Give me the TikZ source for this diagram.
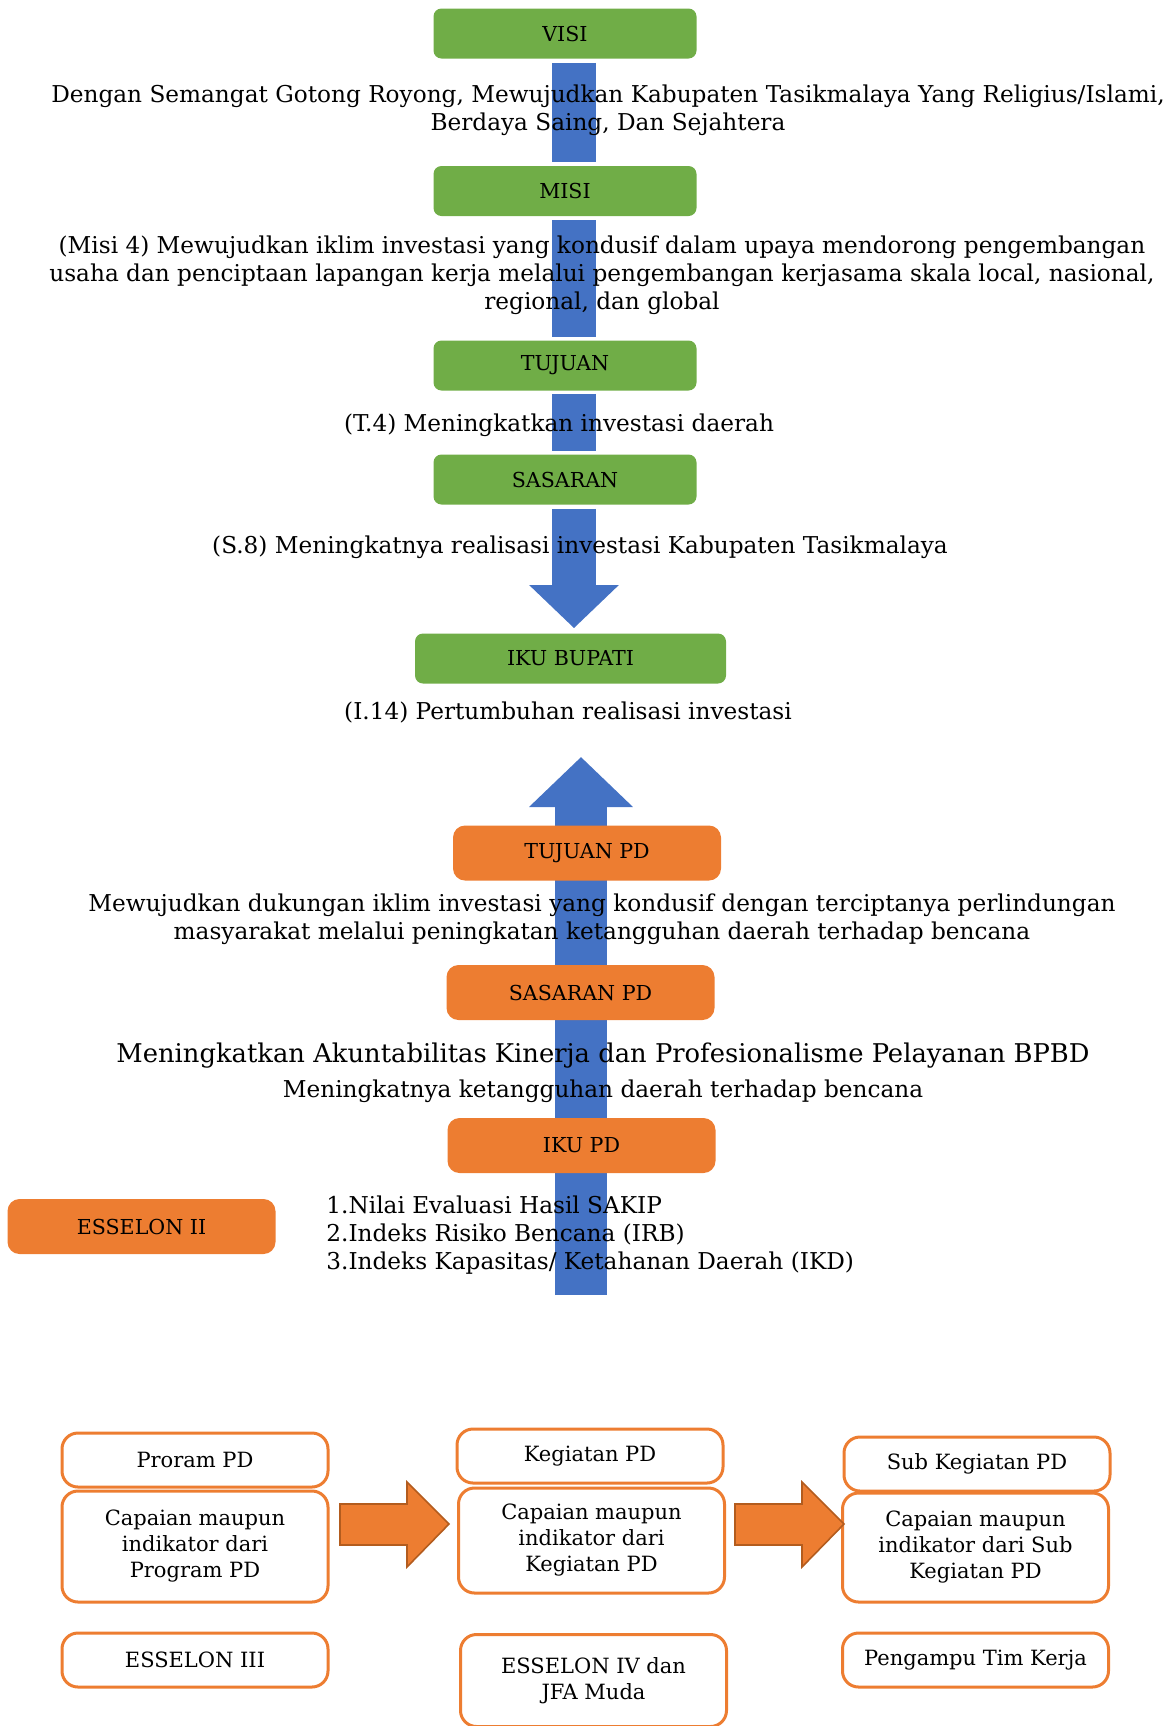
\documentclass[tikz,border=0pt]{standalone}
\usepackage{fontspec}
\setmainfont{DejaVu Serif}
\usepackage{tikz}
\usetikzlibrary{calc,arrows.meta,backgrounds}
\definecolor{leaf}{HTML}{70AD47}
\definecolor{flame}{HTML}{ED7D31}
\definecolor{ember}{HTML}{B35C1E}
\definecolor{cobalt}{HTML}{4472C4}
\tikzset{
  gbox/.style={fill=leaf, rounded corners=4pt, inner sep=0pt, minimum width=131.5pt, minimum height=25pt, font=\fontsize{10.3}{12}\selectfont},
  obox/.style={fill=flame, rounded corners=6pt, inner sep=0pt, minimum width=134pt, minimum height=27.5pt, font=\fontsize{10.3}{12}\selectfont},
  wbox/.style={draw=flame, fill=white, line width=1.5pt, rounded corners=8pt, inner sep=0pt, minimum width=133pt, align=center, font=\fontsize{10.5}{13}\selectfont},
  txt/.style={align=center, inner sep=0pt, font=\fontsize{11.6}{14}\selectfont},
  bar/.style={draw=cobalt, line width=22pt},
  fatbar/.style={draw=cobalt, line width=26pt},
  blk/.style={fill=flame, draw=ember, line width=0.8pt, line join=miter},
}

\begin{document}
\begin{tikzpicture}[x=0.5pt, y=-0.5pt]
  \useasboundingbox (0,0) rectangle (1175,1726);

  \node[gbox] (visi) at (565,33.5) {VISI};
  \node[txt] (tvisi) at (608,110.5) {Dengan Semangat Gotong Royong, Mewujudkan Kabupaten Tasikmalaya Yang Religius/Islami,\\Berdaya Saing, Dan Sejahtera};
  \node[gbox] (misi) at (565,191) {MISI};
  \node[txt] (tmisi) at (602,275.5) {(Misi 4) Mewujudkan iklim investasi yang kondusif dalam upaya mendorong pengembangan\\usaha dan penciptaan lapangan kerja melalui pengembangan kerjasama skala local, nasional,\\regional, dan global};
  \node[gbox] (tujuan) at (565,365.5) {TUJUAN};
  \node[txt] (ttujuan) at (559,425) {(T.4) Meningkatkan investasi daerah};
  \node[gbox] (sasaran) at (565,479.5) {SASARAN};
  \node[txt] (tsasaran) at (580,547) {(S.8) Meningkatnya realisasi investasi Kabupaten Tasikmalaya};
  \node[gbox, minimum width=155.5pt] (ikub) at (570.5,658.5) {IKU BUPATI};
  \node[txt] (tikub) at (568,712) {(I.14) Pertumbuhan realisasi investasi};

  \node[obox] (tujuanpd) at (587,853) {TUJUAN PD};
  \node[txt] (ttujuanpd) at (602,919.5) {Mewujudkan dukungan iklim investasi yang kondusif dengan terciptanya perlindungan\\masyarakat melalui peningkatan ketangguhan daerah terhadap bencana};
  \node[obox] (sasaranpd) at (580.5,992.5) {SASARAN PD};
  \node[txt, font=\fontsize{12.9}{15}\selectfont] (tsasaranpd) at (603,1056) {Meningkatkan Akuntabilitas Kinerja dan Profesionalisme Pelayanan BPBD};
  \node[txt] (tsasaranpd2) at (603,1091) {Meningkatnya ketangguhan daerah terhadap bencana};
  \node[obox] (ikupd) at (581.5,1145.5) {IKU PD};
  \node[obox] (es2) at (141.5,1226.5) {ESSELON II};
  \node[txt, align=left, anchor=west] (tikupd) at (326,1235.5) {1.Nilai Evaluasi Hasil SAKIP\\2.Indeks Risiko Bencana (IRB)\\3.Indeks Kapasitas/ Ketahanan Daerah (IKD)};
  \coordinate (upfoot) at (581,1295);
  \coordinate (uptip) at (581,757);

  \node[wbox, minimum height=27pt] (prog) at (195,1460) {Proram PD};
  \node[wbox, minimum height=55.5pt] (cap1) at (195,1546.5) {Capaian maupun\\indikator dari\\Program PD};
  \node[wbox, minimum height=27pt] (keg) at (590,1456) {Kegiatan PD};
  \node[wbox, minimum height=52.5pt] (cap2) at (591.5,1540.5) {Capaian maupun\\indikator dari\\Kegiatan PD};
  \node[wbox, minimum height=27pt] (sub) at (977,1464) {Sub Kegiatan PD};
  \node[wbox, minimum height=54.5pt] (cap3) at (975.5,1547.5) {Capaian maupun\\indikator dari Sub\\Kegiatan PD};
  \node[wbox, minimum height=27pt] (es3) at (195,1660) {ESSELON III};
  \node[wbox, minimum height=46pt, anchor=north] (es4) at (593.5,1633) {ESSELON IV dan\\JFA Muda};
  \node[wbox, minimum height=27pt] (tim) at (975.5,1660) {Pengampu Tim Kerja};

  \foreach \ax in {340,735} {
    \draw[blk] (\ax,1504) -- ++(67,0) -- ++(0,-22) -- ++(42,42) -- ++(-42,43) -- ++(0,-22) -- ++(-67,0) -- cycle;
  }

  \begin{scope}[on background layer]
    \draw[bar] ($(visi.south)+(9,4)$) -- ($(misi.north)+(9,-4)$);
    \draw[bar] ($(misi.south)+(9,4)$) -- ($(tujuan.north)+(9,-3)$);
    \draw[bar] ($(tujuan.south)+(9,3)$) -- ($(sasaran.north)+(9,-3)$);
    \draw[bar, -{Triangle[width=43.5pt, length=21.5pt]}] ($(sasaran.south)+(9,4)$) -- ($(ikub.north)+(3.5,-5)$);
    \draw[fatbar, -{Triangle[width=50.5pt, length=25pt]}] (upfoot) -- (uptip);
  \end{scope}
\end{tikzpicture}
\end{document}
